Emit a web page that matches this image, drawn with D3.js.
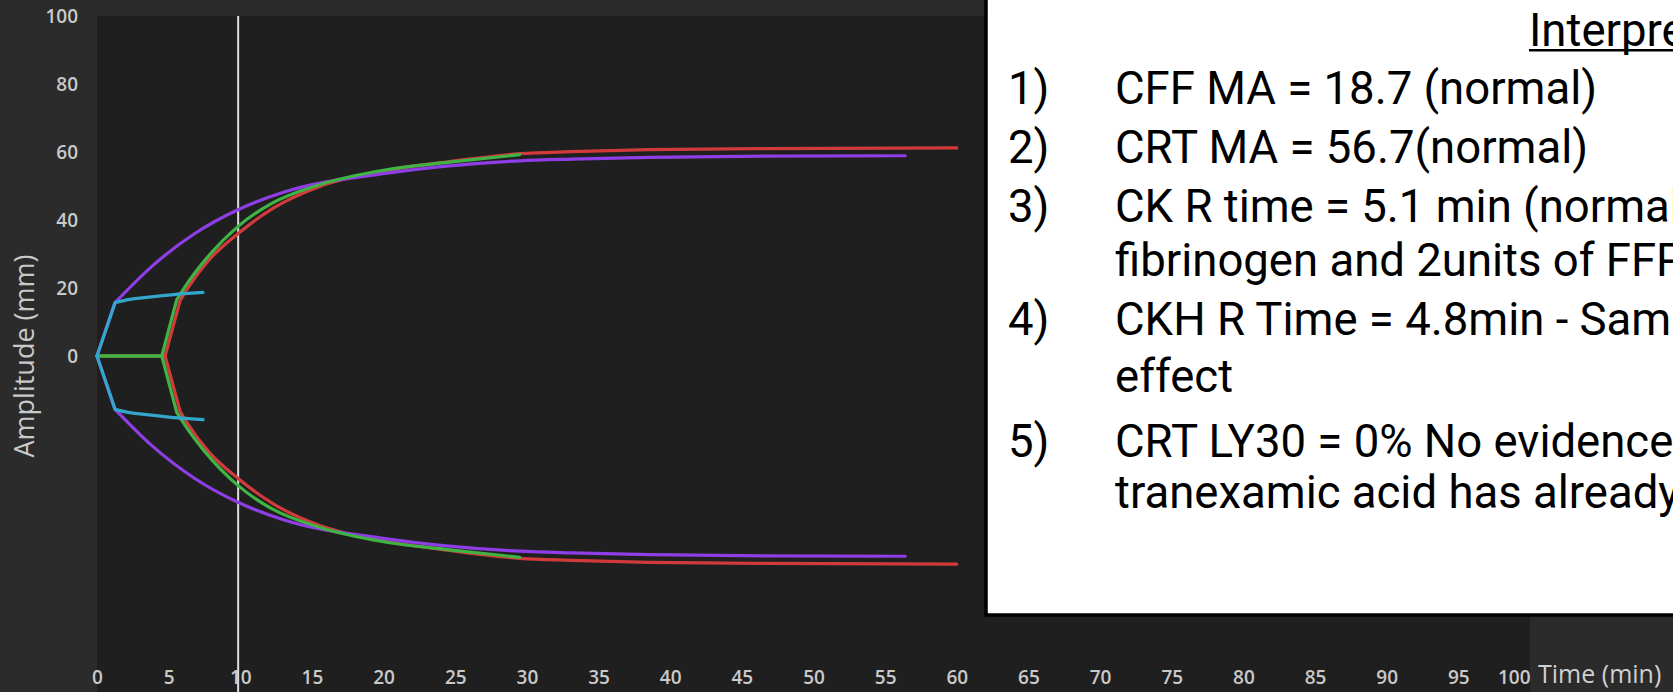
<!DOCTYPE html>
<html>
<head>
<meta charset="utf-8">
<script src="https://cdn.jsdelivr.net/npm/d3@7"></script>
<style>
  html, body { margin: 0; padding: 0; background: #2b2b2b; overflow: hidden; }
  svg { display: block; }
</style>
</head>
<body>
<svg id="chart" width="1673" height="692"></svg>
<script>
// ---- axis ticks ----
const timeTicks = d3.range(0, 101, 5);            // min
const amplitudeTicks = [0, 20, 40, 60, 80, 100];  // mm
const markerTime = 9.85;                          // cursor position (min)

// ---- traces: [time (min), amplitude (mm)] ----
// "lead" is the straight onset segment, "tail" the smooth clot-growth curve.
const cffLead = [[0, 0], [1.26, 15.7]];
const cffTail = [[1.26, 15.7], [2.18, 16.6], [3.82, 17.4], [5.65, 18.2], [7.4, 18.7]];

const crtLead = [[0, 0], [1.26, 15.7]];
const crtTail = [[1.26, 15.7], [3.81, 26.3], [6.85, 36.1], [9.87, 43.1], [13.12, 48.3],
                 [20.1, 53.7], [29.5, 57.4], [33.1, 57.9], [38.5, 58.4], [46.5, 58.8], [56.4, 58.9]];

const ckhLead = [[0, 0], [4.52, 0], [5.56, 16.5]];
const ckhTail = [[5.56, 16.5], [6.15, 20.4], [7.54, 28.2], [9.87, 38.2], [12.19, 44.9],
                 [15.47, 50.3], [20.1, 54.7], [24.6, 57.0], [29.5, 59.2]];

const ckLead = [[0, 0], [4.75, 0], [5.8, 16.3]];
const ckTail = [[5.8, 16.3], [6.4, 20.4], [7.8, 28.2], [9.87, 36.1], [12.3, 43.5],
                [15.5, 49.8], [20.1, 54.5], [24.6, 57.2], [29.5, 59.5], [33.1, 60.1],
                [38.5, 60.7], [46.5, 61.0], [60.0, 61.2]];

// ---- interpretation notes ----
const notesTitle = "Interpretation";
const noteNumbers = ["1)", "2)", "3)", "", "4)", "", "5)", ""];
const noteLines = [
  "CFF MA = 18.7 (normal)",
  "CRT MA = 56.7(normal)",
  "CK R time = 5.1 min (normal)",
  "fibrinogen and 2units of FFP",
  "CKH R Time = 4.8min - Same",
  "effect",
  "CRT LY30 = 0% No evidence",
  "tranexamic acid has already"
];

const W = 1673, H = 692;
const plot = { left: 97, right: 1530, top: 16, bottom: 692 };

const svg = d3.select("#chart");

// panels
svg.append("rect").attr("x", 0).attr("y", 0).attr("width", W).attr("height", H).attr("fill", "#2b2b2b");
svg.append("rect")
  .attr("x", plot.left).attr("y", plot.top)
  .attr("width", plot.right - plot.left).attr("height", plot.bottom - plot.top)
  .attr("fill", "#1f1f1f");

// scales (amplitude is drawn symmetrically about zero)
const x = d3.scaleLinear().domain([0, 100]).range([plot.left, plot.right]);
const y = d3.scaleLinear().domain([-100, 100]).range([696, plot.top]);

// time tick labels
const xAxis = d3.axisBottom(x).tickValues(timeTicks).tickSize(0).tickPadding(0);
const gx = svg.append("g").attr("transform", "translate(0,668)").call(xAxis);
gx.select(".domain").remove();
gx.selectAll("text")
  .attr("y", 16).attr("dy", 0).attr("x", 0)
  .attr("font-family", "'Open Sans', sans-serif")
  .attr("font-size", 19).attr("font-weight", 600)
  .attr("fill", "#c9c9c9")
  .attr("text-anchor", d => d === 100 ? "end" : "middle");

// amplitude tick labels
const yAxis = d3.axisLeft(y).tickValues(amplitudeTicks).tickSize(0).tickPadding(0);
const gy = svg.append("g").attr("transform", "translate(78,0)").call(yAxis);
gy.select(".domain").remove();
gy.selectAll("text")
  .attr("x", 0).attr("dy", "0.36em")
  .attr("font-family", "'Open Sans', sans-serif")
  .attr("font-size", 19).attr("font-weight", 600)
  .attr("fill", "#c9c9c9");

// axis titles
svg.append("text")
  .attr("transform", `translate(34,${y(0)}) rotate(-90)`)
  .attr("text-anchor", "middle")
  .attr("font-family", "'Open Sans', sans-serif")
  .attr("font-size", 27)
  .attr("fill", "#c9c9c9")
  .text("Amplitude (mm)");

svg.append("text")
  .attr("x", 1538).attr("y", 683)
  .attr("font-family", "'Open Sans', sans-serif")
  .attr("font-size", 25)
  .attr("fill", "#d0d0d0")
  .text("Time (min)");

// cursor line
svg.append("line")
  .attr("x1", x(markerTime)).attr("x2", x(markerTime))
  .attr("y1", plot.top).attr("y2", plot.bottom)
  .attr("stroke", "#dedede").attr("stroke-width", 2);

// traces
const straight = d3.line().x(d => x(d[0])).y(d => y(d[1]));
const smooth = d3.line().x(d => x(d[0])).y(d => y(d[1])).curve(d3.curveMonotoneX);

const traces = [
  { name: "CK",  lead: ckLead,  tail: ckTail,  color: "#d23b3b" },
  { name: "CRT", lead: crtLead, tail: crtTail, color: "#8f3ee6" },
  { name: "CKH", lead: ckhLead, tail: ckhTail, color: "#3fb344" },
  { name: "CFF", lead: cffLead, tail: cffTail, color: "#33a6cc" }
];

const gTraces = svg.append("g").attr("fill", "none")
  .attr("stroke-width", 3.2).attr("stroke-linecap", "round").attr("stroke-linejoin", "round");

traces.forEach(t => {
  [1, -1].forEach(sign => {
    const flip = p => [p[0], sign * p[1]];
    gTraces.append("path")
      .attr("stroke", t.color)
      .attr("d", straight(t.lead.map(flip)) + smooth(t.tail.map(flip)));
  });
});

// interpretation box
svg.append("rect")
  .attr("x", 986).attr("y", -10).attr("width", 800).attr("height", 625)
  .attr("fill", "#ffffff").attr("stroke", "#000000").attr("stroke-width", 3.5);

const boxFont = "Roboto, 'Noto Sans', sans-serif";
const boxSize = 45.5;
svg.append("text")
  .attr("x", 1529).attr("y", 46)
  .attr("font-family", boxFont).attr("font-size", boxSize).attr("fill", "#000")
  .text(notesTitle);
svg.append("rect")
  .attr("x", 1529).attr("y", 49).attr("width", 200).attr("height", 2.5).attr("fill", "#000");

const baselines = [104, 163, 222, 276, 335, 392, 457, 508];
const gNotes = svg.append("g").attr("font-family", boxFont).attr("font-size", boxSize).attr("fill", "#000");
noteLines.forEach((line, i) => {
  if (noteNumbers[i]) {
    gNotes.append("text").attr("x", 1008).attr("y", baselines[i]).text(noteNumbers[i]);
  }
  gNotes.append("text").attr("x", 1115).attr("y", baselines[i]).text(line);
});
</script>
</body>
</html>
